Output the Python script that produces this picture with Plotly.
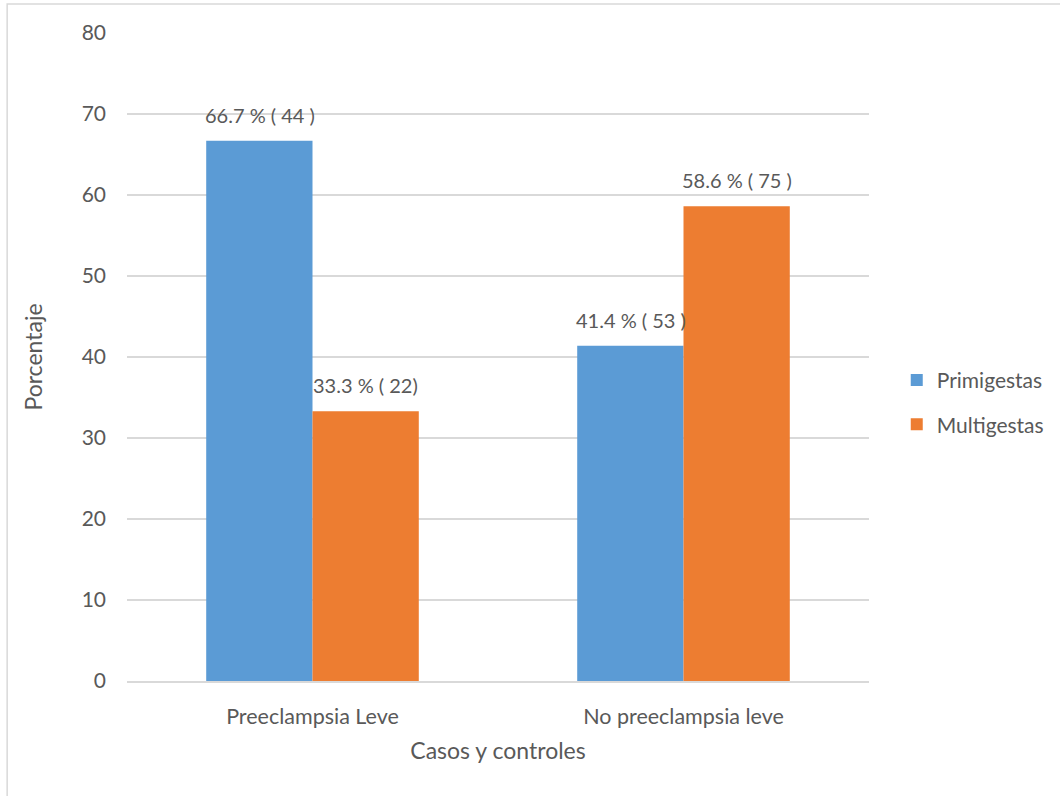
import plotly.graph_objects as go

categories = ["Preeclampsia Leve", "No preeclampsia leve"]
series_names = ["Primigestas", "Multigestas"]
primigestas = [66.7, 41.4]
multigestas = [33.3, 58.6]
primigestas_labels = ["66.7 % ( 44 )", "41.4 % ( 53 )"]
multigestas_labels = ["33.3 % ( 22)", "58.6 % ( 75 )"]
y_ticks = [0, 10, 20, 30, 40, 50, 60, 70, 80]

FONT = "Lato"
GRAY = "#595959"
COLORS = ["#5B9BD5", "#ED7D31"]

fig = go.Figure()
for name, vals, col, grp in [(series_names[0], primigestas, COLORS[0], "a"),
                             (series_names[1], multigestas, COLORS[1], "b")]:
    fig.add_trace(go.Bar(x=categories, y=vals, name=name, legendgroup=grp,
                         marker=dict(color=col, line=dict(width=0))))

annotations = []
for vals, labels, shift in [(primigestas, primigestas_labels, -53),
                            (multigestas, multigestas_labels, 53)]:
    for c, v, t in zip(categories, vals, labels):
        annotations.append(dict(x=c, y=v, text=t, xref="x", yref="y",
                                showarrow=False, xshift=shift, yshift=12,
                                yanchor="bottom", xanchor="center",
                                font=dict(size=20, color=GRAY, family=FONT)))

fig.update_layout(
    width=1060, height=796,
    margin=dict(l=127, r=190, t=33, b=115),
    paper_bgcolor="white", plot_bgcolor="white",
    barmode="group", bargap=0.427, bargroupgap=0,
    font=dict(family=FONT, color=GRAY, size=20),
    annotations=annotations,
    legend=dict(x=1.036, y=0.43, xanchor="left", yanchor="middle",
                font=dict(size=21, color=GRAY, family=FONT),
                itemwidth=30, tracegroupgap=14, bgcolor="rgba(0,0,0,0)"),
    xaxis=dict(showgrid=False, showline=True, linecolor="#D9D9D9", linewidth=1.5,
               ticks="", ticklabelstandoff=15,
               tickfont=dict(size=21.5, color=GRAY, family=FONT),
               title=dict(text="Casos y controles", font=dict(size=23, color=GRAY, family=FONT),
                          standoff=15)),
    yaxis=dict(range=[0, 80], tickvals=y_ticks, showgrid=True, gridcolor="#D9D9D9",
               gridwidth=1.5, zeroline=False, showline=False, ticks="",
               ticklabelstandoff=20,
               tickfont=dict(size=21, color=GRAY, family=FONT),
               title=dict(text="Porcentaje", font=dict(size=23, color=GRAY, family=FONT),
                          standoff=32)),
    shapes=[dict(type="rect", xref="paper", yref="paper",
                 x0=(7 - 127) / 743, x1=(1070 - 127) / 743,
                 y0=(681 - 810) / 648, y1=(681 - 4) / 648,
                 line=dict(color="#D9D9D9", width=1.5), layer="below")],
)

fig.write_html("out.html")
